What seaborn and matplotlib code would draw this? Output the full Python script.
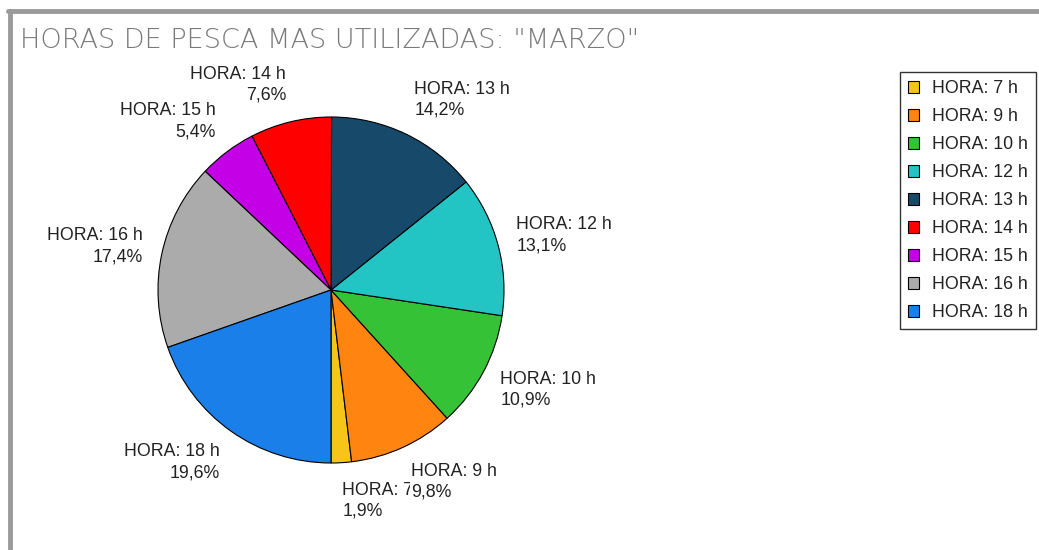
import matplotlib
matplotlib.use("Agg")
import numpy as np
import matplotlib.pyplot as plt
from matplotlib.lines import Line2D
import seaborn as sns

# data (order as drawn, starting at 6 o'clock, counterclockwise)
horas = [7, 9, 10, 12, 13, 14, 15, 16, 18]
porcentajes = [1.9, 9.8, 10.9, 13.1, 14.2, 7.6, 5.4, 17.4, 19.6]
colores = ["#F5C518", "#FF8410", "#36C236", "#22C4C4", "#174A6A",
           "#FF0000", "#C400E6", "#ABABAB", "#1B7FEA"]

sns.set_theme(style="white")
plt.rcParams['font.family'] = ['Liberation Sans', 'DejaVu Sans']

fig = plt.figure(figsize=(10.39, 5.5), dpi=100)
fig.patch.set_facecolor("white")

# pie axes: center (331, 290) px, radius 173 px
cx, cy, r = 331, 290, 173
W, H = 1039, 550
ax = fig.add_axes([(cx - r) / W, (H - cy - r) / H, 2 * r / W, 2 * r / H])

wedges, _ = ax.pie(porcentajes, colors=colores, startangle=270, counterclock=True,
                   wedgeprops=dict(edgecolor="black", linewidth=0.8))
ax.set_xlim(-1, 1)
ax.set_ylim(-1, 1)
ax.set_aspect("equal")
ax.axis("off")

# labels outside, pushed further out vertically (white box, later ones on top like the original)
for i, (w, h, p) in enumerate(zip(wedges, horas, porcentajes)):
    ang = np.deg2rad((w.theta1 + w.theta2) / 2)
    x = 1.11 * np.cos(ang)
    y = 1.22 * np.sin(ang)
    ha = "left" if x >= 0 else "right"
    txt = f"HORA: {h} h\n{p:.1f}%".replace(".", ",")
    ax.text(x, y, txt, ha=ha, va="center", multialignment=ha,
            fontsize=12.8, color="#222222", linespacing=1.3, zorder=5 + i,
            bbox=dict(facecolor="white", edgecolor="none", pad=0.5))

leg = fig.legend(wedges, [f"HORA: {h} h" for h in horas],
                 loc="upper right", bbox_to_anchor=(1036 / W, 1 - 72 / H),
                 frameon=True, fancybox=False, fontsize=12.8,
                 handlelength=0.62, handleheight=0.62, handletextpad=0.75,
                 labelspacing=0.62, borderpad=0.45, borderaxespad=0)
leg.get_frame().set_edgecolor("black")
leg.get_frame().set_linewidth(1.0)
for t in leg.get_texts():
    t.set_color("#222222")

fig.text(20 / W, 1 - 41 / H, 'HORAS DE PESCA MAS UTILIZADAS: "MARZO"',
         fontsize=19.5, color="#7a7a7a", va="center", ha="left",
         family="DejaVu Sans", weight="light")

# grey frame (top and left edges)
fig.add_artist(Line2D([8 / W, 1], [1 - 11 / H, 1 - 11 / H], color="#9a9a9a", linewidth=3.5))
fig.add_artist(Line2D([10 / W, 10 / W], [0, 1 - 11 / H], color="#9a9a9a", linewidth=3.5))

fig.savefig("out.png", dpi=100, facecolor="white")
